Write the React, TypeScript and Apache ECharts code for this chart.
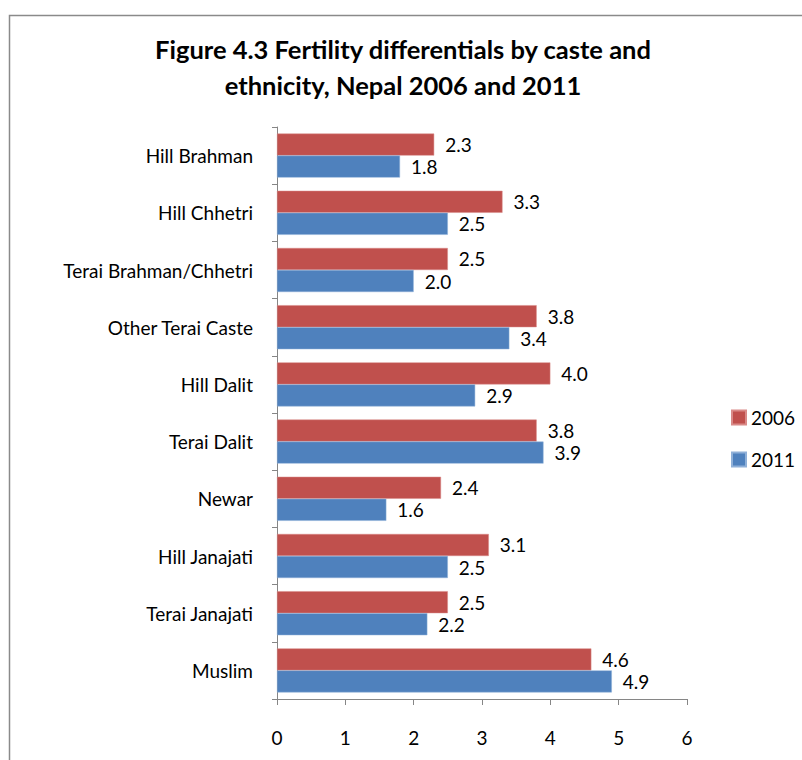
import React, { useEffect, useRef } from "react";
import * as echarts from "echarts";

const categories = [
  "Hill Brahman",
  "Hill Chhetri",
  "Terai Brahman/Chhetri",
  "Other Terai Caste",
  "Hill Dalit",
  "Terai Dalit",
  "Newar",
  "Hill Janajati",
  "Terai Janajati",
  "Muslim",
];
const values2006 = [2.3, 3.3, 2.5, 3.8, 4.0, 3.8, 2.4, 3.1, 2.5, 4.6];
const values2011 = [1.8, 2.5, 2.0, 3.4, 2.9, 3.9, 1.6, 2.5, 2.2, 4.9];
const seriesNames = ["2006", "2011"];
const titleText = "Figure 4.3 Fertility differentials by caste and\nethnicity, Nepal 2006 and 2011";

const FONT = "Lato, 'Open Sans', sans-serif";
const FS = 19;

export default function App() {
  const ref = useRef<HTMLDivElement>(null);
  useEffect(() => {
    if (!ref.current) return;
    const chart = echarts.init(ref.current, null, { renderer: "svg" });
    const labelCfg = {
      show: true,
      position: "right" as const,
      distance: 11,
      color: "#000",
      fontSize: FS,
      fontFamily: FONT,
      formatter: (p: any) => Number(p.value).toFixed(1),
    };
    chart.setOption({
      animation: false,
      backgroundColor: "#fff",
      title: {
        text: titleText,
        left: 398,
        textAlign: "center",
        top: 26,
        textStyle: {
          fontSize: 25.5,
          fontWeight: "bold",
          fontFamily: FONT,
          color: "#000",
          lineHeight: 36,
        },
      },
      legend: {
        orient: "vertical",
        left: 726,
        top: 403,
        itemWidth: 14,
        itemHeight: 14,
        itemGap: 23,
        icon: "rect",
        textStyle: { fontSize: FS, fontFamily: FONT, color: "#000" },
        data: seriesNames,
      },
      graphic: [
        {
          type: "polyline",
          shape: { points: [[9.5, 760], [9.5, 15.5], [802, 15.5]] },
          style: { stroke: "#8a8a8a", lineWidth: 1.5, fill: "none" },
          silent: true,
        },
      ],
      grid: { left: 277, top: 127, width: 410, height: 572, containLabel: false },
      xAxis: {
        type: "value",
        min: 0,
        max: 6,
        interval: 1,
        splitLine: { show: false },
        axisLine: { show: true, lineStyle: { color: "#868686", width: 1 } },
        axisTick: { show: true, length: 6, lineStyle: { color: "#868686" } },
        axisLabel: { margin: 29, fontSize: FS, fontFamily: FONT, color: "#000" },
      },
      yAxis: {
        type: "category",
        data: categories,
        inverse: true,
        axisLine: { show: true, lineStyle: { color: "#868686", width: 1 } },
        axisTick: { show: true, length: 5, lineStyle: { color: "#868686" } },
        axisLabel: { margin: 24, fontSize: FS, fontFamily: FONT, color: "#000" },
      },
      series: [
        {
          name: seriesNames[0],
          type: "bar",
          data: values2006,
          barGap: "0%",
          barCategoryGap: "23%",
          itemStyle: { color: "#C0504D", borderColor: "#d98a88", borderWidth: 0.5 },
          label: labelCfg,
        },
        {
          name: seriesNames[1],
          type: "bar",
          data: values2011,
          barGap: "0%",
          barCategoryGap: "23%",
          itemStyle: { color: "#4F81BD", borderColor: "#8fb0d8", borderWidth: 0.5 },
          label: labelCfg,
        },
      ],
    });
    return () => chart.dispose();
  }, []);
  return (
    <div
      ref={ref}
      style={{ position: "fixed", left: 0, top: 0, width: 802, height: 760 }}
    />
  );
}
